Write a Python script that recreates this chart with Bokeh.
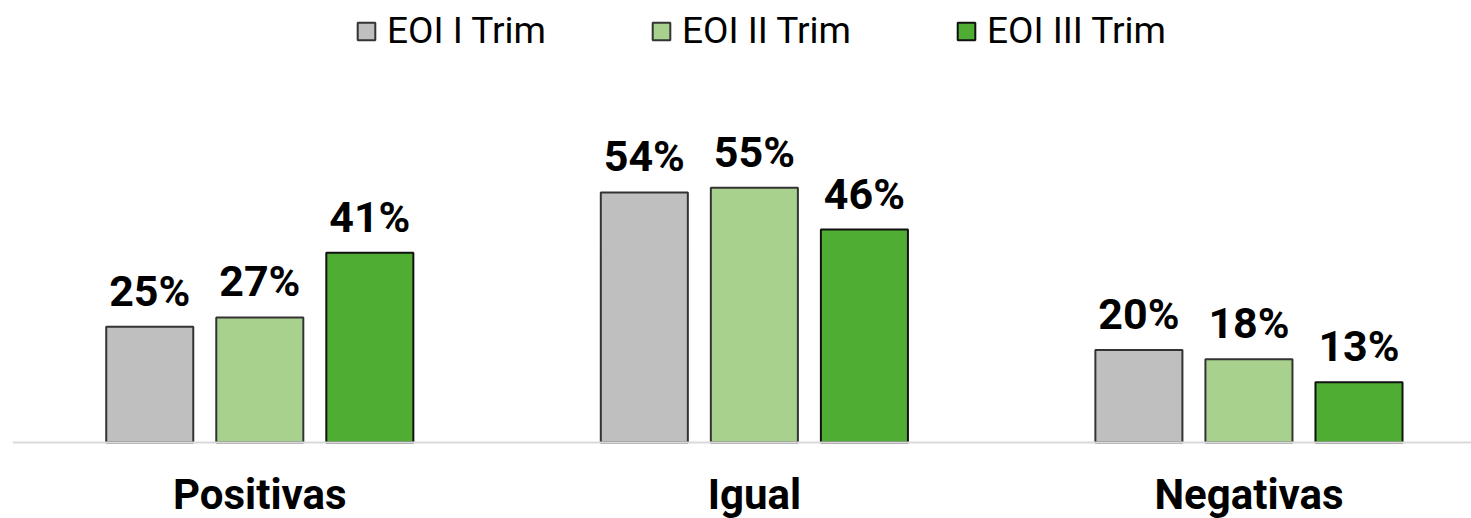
import numpy as np
from bokeh.plotting import figure
from bokeh.models import Range1d, Span, Legend, LegendItem, ColumnDataSource
from bokeh.core.properties import value
from bokeh.embed import file_html
from bokeh.resources import INLINE

categories = ["Positivas", "Igual", "Negativas"]
series_names = ["EOI I Trim", "EOI II Trim", "EOI III Trim"]
eoi_1 = [25, 54, 20]
eoi_2 = [27, 55, 18]
eoi_3 = [41, 46, 13]
series_values = [eoi_1, eoi_2, eoi_3]
fill_colors = ["#BFBFBF", "#A9D18E", "#4FAD33"]
line_colors = ["#333333", "#333333", "#111111"]

W, H = 1471, 518
p = figure(width=W, height=H, output_backend="svg", toolbar_location=None,
           x_range=Range1d(0, 2.950), y_range=Range1d(-16.41, 95.46),
           x_axis_location=None, y_axis_location=None,
           min_border_left=12, min_border_right=0, min_border_top=0,
           min_border_bottom=0)
p.outline_line_color = None
p.grid.visible = False

p.add_layout(Span(location=0, dimension="width", line_color="#D9D9D9",
                  line_width=2))

base = np.arange(len(categories)) + 0.5
cat_src = ColumnDataSource(dict(x=base, y=[0] * len(categories), t=categories))
p.text(x="x", y="y", text="t", source=cat_src, y_offset=52,
       text_align="center", text_baseline="alphabetic",
       text_font=value("Roboto"), text_font_style="bold",
       text_font_size="42px", text_color="#000000")

offsets = [-0.2225, 0.0, 0.2225]
items = []
for k, name in enumerate(series_names):
    src = ColumnDataSource(dict(x=base + offsets[k], top=series_values[k],
                                lab=[f"{v}%" for v in series_values[k]]))
    r = p.vbar(x="x", top="top", bottom=0, width=0.176, source=src,
               fill_color=fill_colors[k], line_color=line_colors[k],
               line_width=2)
    p.text(x="x", y="top", text="lab", source=src, y_offset=-36,
           text_align="center", text_baseline="alphabetic",
           text_font=value("Roboto"), text_font_style="bold",
           text_font_size="43px", text_color="#000000")
    items.append(LegendItem(label=name, renderers=[r]))

legend = Legend(items=items, orientation="horizontal", location=(343, 466),
                spacing=104, glyph_width=22, glyph_height=22,
                label_standoff=10, padding=0, margin=0,
                border_line_color=None, background_fill_alpha=0,
                label_text_font="Roboto", label_text_font_size="37px",
                label_text_color="#000000")
p.add_layout(legend, "center")

open("out.html", "w").write(file_html(p, INLINE))
